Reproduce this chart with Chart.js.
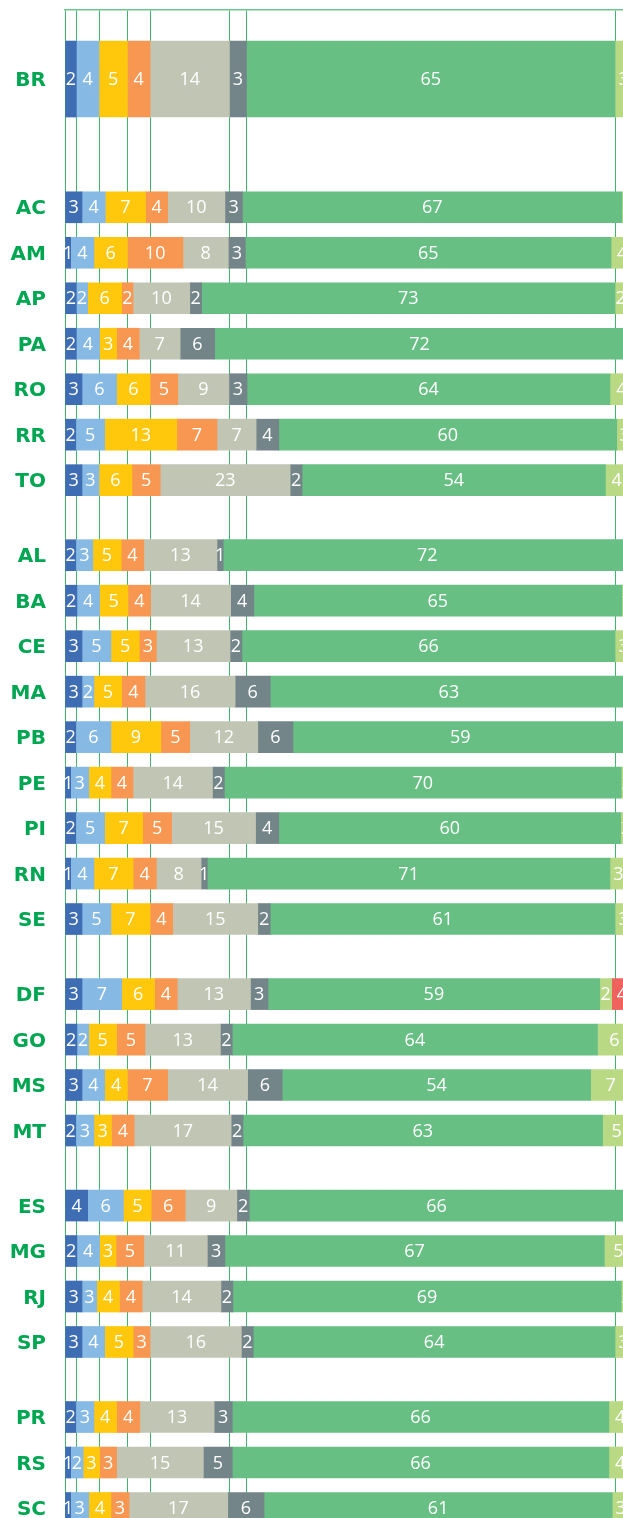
<!DOCTYPE html>
<html>
<head>
<meta charset="utf-8">
<script src="https://cdn.jsdelivr.net/npm/chart.js@4.4.0/dist/chart.umd.min.js"></script>
<style>
  html, body { margin: 0; padding: 0; background: #fff; }
  canvas { display: block; }
</style>
</head>
<body>
<canvas id="chart" width="623" height="1518"></canvas>
<script>
"use strict";

// Filas: Brasil arriba, después cada región con sus estados
const regions = [
  ["BR"],
  ["AC", "AM", "AP", "PA", "RO", "RR", "TO"],
  ["AL", "BA", "CE", "MA", "PB", "PE", "PI", "RN", "SE"],
  ["DF", "GO", "MS", "MT"],
  ["ES", "MG", "RJ", "SP"],
  ["PR", "RS", "SC"],
];
const states = regions.flat();

// Un array por franja (%), en el orden de `states`
const band1 = [2, 3, 1, 2, 2, 3, 1.9, 3, 1.9, 2.1, 3, 3, 1.9, 1, 1.9, 1, 3, 3, 2.1, 3, 1.9, 4, 2.1, 3, 3, 1.9, 1, 1];
const band2 = [4, 4.1, 4.1, 2, 4.1, 6.1, 5.1, 3, 3, 4, 5.1, 2.1, 6.2, 3.2, 5.1, 4.1, 5.1, 7, 2.1, 4, 3.2, 6.3, 4, 2.6, 4, 3.2, 2.2, 3.2];
const band3 = [5, 7.1, 5.9, 6, 3, 5.9, 12.7, 5.8, 5, 5, 5, 4.9, 8.8, 3.9, 6.7, 6.9, 6.9, 5.8, 4.9, 4, 3.1, 4.9, 2.9, 4, 5, 4, 2.9, 3.9];
const band4 = [4, 3.9, 9.8, 2, 4, 4.9, 7.1, 5, 4, 4, 3, 4.1, 5.1, 3.9, 5.1, 4.1, 4, 4, 5, 7.1, 4, 6, 4.9, 4, 3, 4.1, 3, 3.2];
const band5 = [14, 10.1, 8, 10, 7.2, 9, 6.9, 22.9, 12.9, 14.1, 13, 15.9, 12, 14, 14.8, 7.9, 15, 12.9, 13.3, 14.1, 17.1, 9.1, 11.2, 13.9, 16.1, 13.1, 15.3, 17.4];
const band6 = [3, 3.1, 3, 2.1, 6.1, 3.2, 4, 2.1, 1.1, 4.1, 2.1, 6.2, 6.2, 2.1, 4.1, 1.1, 2.2, 3.1, 2.1, 6.1, 2.1, 2.2, 3.1, 2.1, 2.1, 3.2, 5.1, 6.4];
const band7 = [65, 66.9, 64.5, 72.9, 72.2, 64, 59.6, 53.5, 72, 64.9, 65.8, 63, 59, 70, 60.3, 71, 60.8, 58.5, 64.4, 54.4, 63.4, 66, 66.9, 68.5, 63.8, 66.4, 66.4, 61.4];
const band8 = [3, 1.9, 3.9, 2, 1.4, 4, 2.8, 4, 0, 1.4, 3, 0.8, 0.8, 1.9, 1.9, 3, 3, 2.1, 6, 7, 5, 1.5, 5, 1.9, 3, 4, 4, 3];
const band9 = [0, 0, 0, 0, 0, 0, 0, 0, 0, 0, 0, 0, 0, 0, 0, 0, 0, 3.6, 0, 0, 0, 0, 0, 0, 0, 0, 0, 0];

const bands = [band1, band2, band3, band4, band5, band6, band7, band8, band9];
const colors = ["#3f6db3", "#86b9e4", "#ffc80d", "#f89752", "#c1c5b4",
  "#738589", "#67bf83", "#b9d985", "#ef625e"];

const GREEN = "#00a651";
const GRID = "#3fb66c";

// Posición vertical de cada fila (en filas); BR va separado y más grueso
const rowPos = [];
let pos = -2.82;
regions.forEach((group, gi) => {
  if (gi === 1) pos = 0;
  else if (gi > 1) pos += 0.65;
  group.forEach(() => { rowPos.push(pos); pos += 1; });
});

// Líneas verticales: bordes acumulados de las franjas de BR
const brEdges = [0];
bands.slice(0, 7).forEach((b) => brEdges.push(brEdges[brEdges.length - 1] + b[0]));

const datasets = [];
for (const big of [true, false]) {
  bands.forEach((band, b) => {
    datasets.push({
      data: states
        .map((s, i) => ({ x: band[i], y: rowPos[i], big: i === 0 }))
        .filter((p) => p.big === big),
      backgroundColor: colors[b],
      borderWidth: 0,
      barThickness: big ? 76 : 31,
    });
  });
}

const segLabels = {
  id: "segLabels",
  afterDatasetsDraw(chart) {
    const ctx = chart.ctx;
    ctx.save();
    ctx.fillStyle = "#fff";
    ctx.font = '500 18px "Open Sans"';
    ctx.textAlign = "center";
    ctx.textBaseline = "middle";
    chart.data.datasets.forEach((ds, d) => {
      chart.getDatasetMeta(d).data.forEach((bar, i) => {
        const v = ds.data[i].x;
        if (v < 0.5) return;
        ctx.fillText(String(Math.round(v)), (bar.x + bar.base) / 2, bar.y + 1);
      });
    });
    ctx.restore();
  },
};

new Chart(document.getElementById("chart"), {
  type: "bar",
  data: { datasets },
  options: {
    indexAxis: "y",
    responsive: false,
    animation: false,
    layout: { padding: { top: 10, left: 0, right: 0, bottom: 0 } },
    plugins: { legend: { display: false }, tooltip: { enabled: false } },
    scales: {
      x: {
        type: "linear",
        position: "top",
        stacked: true,
        min: 0,
        max: 98.4,
        bounds: "data",
        afterBuildTicks: (s) => { s.ticks = brEdges.map((v) => ({ value: v })); },
        afterFit: (s) => { s.height = 0; s.paddingLeft = 0; s.paddingRight = 0; },
        ticks: { display: false },
        grid: { color: GRID, lineWidth: 1, drawTicks: false },
        border: { display: true, color: "#6cc58f", width: 1.5 },
      },
      y: {
        type: "linear",
        reverse: true,
        stacked: true,
        offset: false,
        min: -4.338,
        max: 28.82,
        bounds: "data",
        afterBuildTicks: (s) => { s.ticks = rowPos.map((v) => ({ value: v })); },
        afterFit: (s) => { s.width = 65; s.paddingTop = 0; s.paddingBottom = 0; },
        grid: { display: false, drawTicks: false },
        border: { display: false },
        ticks: {
          autoSkip: false,
          padding: 19,
          labelOffset: 2,
          color: GREEN,
          font: { family: "DejaVu Sans", size: 20, weight: "bold" },
          callback: (v, i) => states[i],
        },
      },
    },
  },
  plugins: [segLabels],
});
</script>
</body>
</html>
